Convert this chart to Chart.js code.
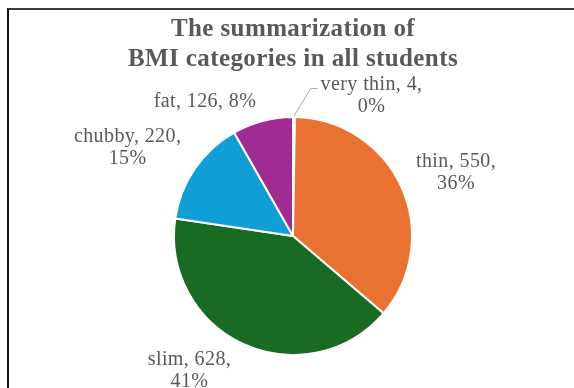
<!DOCTYPE html>
<html>
<head>
<meta charset="utf-8">
<title>BMI categories</title>
<script src="https://cdn.jsdelivr.net/npm/chart.js@4.4.1/dist/chart.umd.min.js"></script>
<style>
  html, body { margin: 0; padding: 0; background: #fff; }
  #wrap { position: relative; width: 574px; height: 388px; overflow: hidden; }
  #myChart { position: absolute; left: 0; top: 0; }
  #frame {
    position: absolute; left: 7px; top: 8px; right: 0; bottom: -4px;
    border-top: 2px solid #3a3a3a; border-left: 2px solid #111;
    pointer-events: none;
  }
</style>
</head>
<body>
<div id="wrap">
  <canvas id="myChart" width="574" height="388"></canvas>
  <div id="frame"></div>
</div>
<script>
const titleLines = ['The summarization of', 'BMI categories in all students'];
const categories = ['very thin', 'thin', 'slim', 'chubby', 'fat'];
const students = [4, 550, 628, 220, 126];
const percents = ['0%', '36%', '41%', '15%', '8%'];
const sliceColors = ['#156082', '#E97132', '#196B24', '#0F9ED5', '#A02B93'];

// where each data label sits, relative to the pie centre (in radii)
const labelSpots = [
  { dx: 0.66, dy: -1.18, wrap: true, leader: true },
  { dx: 1.37, dy: -0.53, wrap: true },
  { dx: -0.87, dy: 1.13, wrap: true },
  { dx: -1.39, dy: -0.74, wrap: true },
  { dx: -0.74, dy: -1.13, wrap: false }
];

const textColor = '#595959';

const labelsPlugin = {
  id: 'bmiLabels',
  afterDraw(chart) {
    const ctx = chart.ctx;
    ctx.save();

    // title
    ctx.fillStyle = textColor;
    ctx.textAlign = 'center';
    ctx.textBaseline = 'alphabetic';
    ctx.font = 'bold 25px "Liberation Serif"';
    ctx.letterSpacing = '0.4px';
    const cx = (chart.chartArea.left + chart.chartArea.right) / 2;
    ctx.fillText(titleLines[0], cx, 36);
    ctx.fillText(titleLines[1], cx, 66);

    // data labels
    ctx.font = '20px "Liberation Serif"';
    ctx.letterSpacing = '0.4px';
    ctx.textBaseline = 'middle';
    const arcs = chart.getDatasetMeta(0).data;
    arcs.forEach((arc, i) => {
      const p = arc.getProps(['x', 'y', 'startAngle', 'endAngle', 'outerRadius'], true);
      const spot = labelSpots[i];
      const lx = p.x + spot.dx * p.outerRadius;
      const ly = p.y + spot.dy * p.outerRadius;
      const lines = spot.wrap
        ? [categories[i] + ', ' + students[i] + ',', percents[i]]
        : [categories[i] + ', ' + students[i] + ', ' + percents[i]];
      const lh = 22;
      const top = ly - (lines.length - 1) * lh / 2;
      lines.forEach((t, k) => ctx.fillText(t, lx, top + k * lh));

      if (spot.leader) {
        const mid = (p.startAngle + p.endAngle) / 2;
        const sx = p.x + Math.cos(mid) * (p.outerRadius + 1);
        const sy = p.y + Math.sin(mid) * (p.outerRadius + 1);
        const left = lx - ctx.measureText(lines[0]).width / 2;
        const ey = top + 4;
        ctx.strokeStyle = '#a6a6a6';
        ctx.lineWidth = 1;
        ctx.beginPath();
        ctx.moveTo(sx, sy);
        ctx.lineTo(left - 10, ey);
        ctx.lineTo(left - 3, ey);
        ctx.stroke();
      }
    });
    ctx.restore();
  }
};

const ctx = document.getElementById('myChart').getContext('2d');

const myChart = new Chart(ctx, {
  type: 'pie',
  data: {
    labels: categories,
    datasets: [{
      data: students,
      backgroundColor: sliceColors,
      borderColor: '#ffffff',
      borderWidth: 2
    }]
  },
  options: {
    responsive: false,
    animation: false,
    layout: {
      padding: { top: 116, bottom: 32, left: 173, right: 161 }
    },
    plugins: {
      legend: { display: false },
      tooltip: { enabled: false },
      title: { display: false }
    }
  },
  plugins: [labelsPlugin]
});
</script>
</body>
</html>
